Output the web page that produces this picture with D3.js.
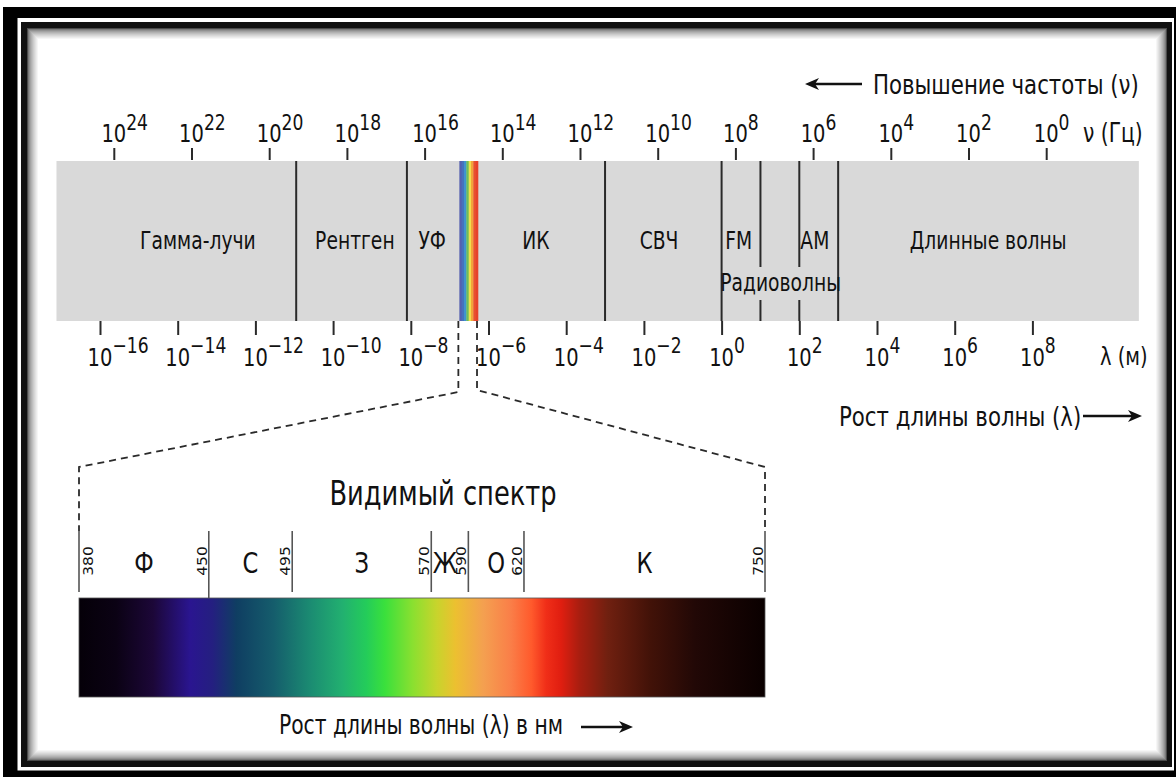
<!DOCTYPE html>
<html><head><meta charset="utf-8">
<script src="https://cdn.jsdelivr.net/npm/d3@7"></script>
<style>html,body{margin:0;padding:0;background:#fff;} svg{display:block;}</style>
</head><body>
<script>
// ---------- data ----------
const freqExponents = [24,22,20,18,16,14,12,10,8,6,4,2,0];
const wavelengthExponents = [-16,-14,-12,-10,-8,-6,-4,-2,0,2,4,6,8];
const bandExtentExp = [-17.12, 10.74];
const mainBoundaryExp = [-10.95, -8.1, -3, 0, 3];
const radioSubBoundaryExp = [1, 2];
const visibleBandExp = [-6.75, -6.27];
const visibleStripColors = ["#5560b0","#4672bd","#3f93cf","#6cbd5c","#f1dd4c","#f2a23a","#e9502f","#e6412b"];
const bandNames = ["Гамма-лучи","Рентген","УФ","ИК","СВЧ","FM","AM","Длинные волны"];
const bandNameExp = [-13.48,-9.44,-7.45,-4.78,-1.61,0.44,2.4,6.86];
const radioLabel = "Радиоволны";
const radioLabelExp = 1.52;
const visibleBoundsNm = [380,450,495,570,590,620,750];
const visibleColorNames = ["Ф","С","З","Ж","О","К"];
const visibleColorNameNm = [415, 472.5, 532.5, 577.4, 605, 685];
const spectrumStopsNm = [380,400,420,440,452,465,485,505,522,535,545,560,573,583,598,613,624,632,640,650,665,688,712,750];
const spectrumStopColors = ["#050008","#0b0214","#1c0738","#2a1590","#241f80","#0f3e62","#155d6c","#1b8c72","#22b070","#24cc5a","#3ae03c","#8ae030","#c8d42c","#ecc030","#f4a050","#fa7e48","#ff5a2c","#f02e18","#e01e10","#a81e10","#702010","#421208","#220806","#0a0000"];
const texts = {
  freqUp: "Повышение частоты (ν)",
  freqUnit: "ν (Гц)",
  wlUnit: "λ (м)",
  wlUp: "Рост длины волны (λ)",
  visTitle: "Видимый спектр",
  visCaption: "Рост длины волны (λ) в нм"
};

// ---------- layout ----------
const W = 1176, H = 777, SX = 0.78;
const FONT = "DejaVu Sans, Verdana, sans-serif";
const bandTop = 161, bandBot = 321;
const svg = d3.select("body").append("svg").attr("width", W).attr("height", H)
  .style("font-family", FONT);

// frame
svg.append("rect").attr("x",3).attr("y",7).attr("width",W).attr("height",H).attr("fill","#000");
svg.append("rect").attr("x",17.5).attr("y",18).attr("width",1174-17.5).attr("height",770.5-18).attr("fill","#fff");
svg.append("rect").attr("x",21).attr("y",22).attr("width",1172-21).attr("height",767-22).attr("fill","#111");
svg.append("rect").attr("x",27).attr("y",28).attr("width",1140).attr("height",733).attr("fill","#fff");
const shade = d3.interpolateRgb("#4a4a4a","#ffffff");
for (let i = 0; i < 12; i++) {
  svg.append("rect").attr("x",27.5+i).attr("y",28.5+i).attr("width",1139-2*i).attr("height",732-2*i)
    .attr("fill","none").attr("stroke",shade(Math.pow(i/11,0.55))).attr("stroke-width",1);
}

// scales
const wl = d3.scaleLog().domain([1e-16, 1e8]).range([100, 1032.4]);
const fq = d3.scaleLog().domain([1e24, 1]).range([113.8, 1046.2]);
const vs = d3.scaleLinear().domain([380, 750]).range([79, 765]);
const e = p => Math.pow(10, p);

function label(x, y, s, size, anchor, rot, sx) {
  const g = svg.append("g").attr("transform", `translate(${x},${y}) scale(${sx || SX},1)` + (rot ? ` rotate(${rot})` : ""));
  return g.append("text").attr("font-size", size).attr("text-anchor", anchor || "start")
    .attr("fill", "#111").text(s);
}
function powLabel(x, y, exp, size, supSize, supDy) {
  const g = svg.append("g").attr("transform", `translate(${x},${y}) scale(${SX},1)`);
  const t = g.append("text").attr("font-size", size).attr("fill","#111").attr("x", -0.636*size);
  t.append("tspan").text("10");
  t.append("tspan").attr("font-size", supSize).attr("dy", -supDy).text(exp < 0 ? "\u2212" + (-exp) : String(exp));
}
function arrow(x1, x2, y) {
  const dir = Math.sign(x2 - x1);
  svg.append("line").attr("x1", x1).attr("x2", x2 - dir*8).attr("y1", y).attr("y2", y)
    .attr("stroke", "#111").attr("stroke-width", 2.6);
  svg.append("path").attr("d", `M${x2},${y} L${x2-dir*14},${y-6} L${x2-dir*10},${y} L${x2-dir*14},${y+6} Z`)
    .attr("fill", "#111");
}

// band
svg.append("rect").attr("x", wl(e(bandExtentExp[0]))).attr("y", bandTop)
  .attr("width", wl(e(bandExtentExp[1])) - wl(e(bandExtentExp[0]))).attr("height", bandBot - bandTop)
  .attr("fill", "#d9d9d9");

// visible strip inside band
const vx0 = wl(e(visibleBandExp[0])), vx1 = wl(e(visibleBandExp[1]));
const sw = (vx1 - vx0) / visibleStripColors.length;
svg.selectAll("rect.vstrip").data(visibleStripColors).join("rect").attr("class","vstrip")
  .attr("x", (d,i) => vx0 + i*sw).attr("y", bandTop).attr("width", sw + 0.3).attr("height", bandBot - bandTop)
  .attr("fill", d => d);

// boundaries
svg.selectAll("line.bnd").data(mainBoundaryExp).join("line").attr("class","bnd")
  .attr("x1", d => wl(e(d))).attr("x2", d => wl(e(d))).attr("y1", bandTop).attr("y2", bandBot)
  .attr("stroke", "#2a2a2a").attr("stroke-width", 2);
radioSubBoundaryExp.forEach(d => {
  [[bandTop, 267], [300, bandBot]].forEach(([a,b]) => {
    svg.append("line").attr("x1", wl(e(d))).attr("x2", wl(e(d))).attr("y1", a).attr("y2", b)
      .attr("stroke", "#2a2a2a").attr("stroke-width", 2);
  });
});

// axes (ticks)
const topAxis = d3.axisTop(fq).tickValues(freqExponents.map(e)).tickSize(12).tickFormat("");
const ga = svg.append("g").attr("transform", `translate(0,${bandTop - 1})`).call(topAxis);
const botAxis = d3.axisBottom(wl).tickValues(wavelengthExponents.map(e)).tickSize(14).tickFormat("");
const gb = svg.append("g").attr("transform", `translate(0,${bandBot})`).call(botAxis);
[ga, gb].forEach(g => {
  g.select(".domain").remove();
  g.selectAll(".tick line").attr("stroke", "#2a2a2a").attr("stroke-width", 2);
});
freqExponents.forEach(p => powLabel(fq(e(p)), 142, p, 25, 22, 12));
wavelengthExponents.forEach(p => powLabel(wl(e(p)), 366, p, 25, 22, 13));

label(1083, 142, texts.freqUnit, 26, "start");
label(1100, 365, texts.wlUnit, 25, "start");

// top arrow + text
arrow(862, 805, 84);
label(873, 94, texts.freqUp, 27.3, "start");
// right arrow + text
label(839, 426, texts.wlUp, 27.3, "start");
arrow(1083, 1142, 416);

// band names
bandNames.forEach((n, i) => label(wl(e(bandNameExp[i])), 249, n, 24, "middle"));
label(wl(e(radioLabelExp)), 291, radioLabel, 24, "middle");

// dashed connector
const vLeft = vs(visibleBoundsNm[0]), vRight = vs(visibleBoundsNm[visibleBoundsNm.length-1]);
const dash = svg.append("g").attr("fill","none").attr("stroke","#2a2a2a").attr("stroke-width",1.8)
  .attr("stroke-dasharray","7,5");
dash.append("path").attr("d", `M${vx0-1},${bandBot} L${vx0-1},392 L${vLeft},467 L${vLeft},531`);
dash.append("path").attr("d", `M${vx1-1},${bandBot} L${vx1-1},390 L${vRight},467 L${vRight},531`);

// visible spectrum title
label(443, 505, texts.visTitle, 33, "middle");

// boundary lines and numbers
visibleBoundsNm.forEach((nm, i) => {
  svg.append("line").attr("x1", vs(nm)).attr("x2", vs(nm)).attr("y1", 531).attr("y2", nm === 450 ? 599 : 592)
    .attr("stroke", "#555").attr("stroke-width", 1.6);
  const lx = i === 0 ? vs(nm) + 14 : vs(nm) - 2;
  label(lx, 561, String(nm), 15.5, "middle", -90, 0.9);
});
visibleColorNames.forEach((n, i) => {
  label(vs(visibleColorNameNm[i]), 573, n, 29, "middle");
});

// spectrum gradient bar
const grad = svg.append("defs").append("linearGradient").attr("id","spec")
  .attr("gradientUnits","userSpaceOnUse").attr("x1", vLeft).attr("x2", vRight).attr("y1",0).attr("y2",0);
spectrumStopsNm.forEach((nm, i) => grad.append("stop")
  .attr("offset", (vs(nm) - vLeft) / (vRight - vLeft)).attr("stop-color", spectrumStopColors[i]));
svg.append("rect").attr("x", vLeft).attr("y", 598).attr("width", vRight - vLeft).attr("height", 99)
  .attr("fill","url(#spec)").attr("stroke","#555").attr("stroke-width",0.8);

// caption
label(279, 734, texts.visCaption, 26, "start");
arrow(581, 633, 727);
</script>
</body></html>
